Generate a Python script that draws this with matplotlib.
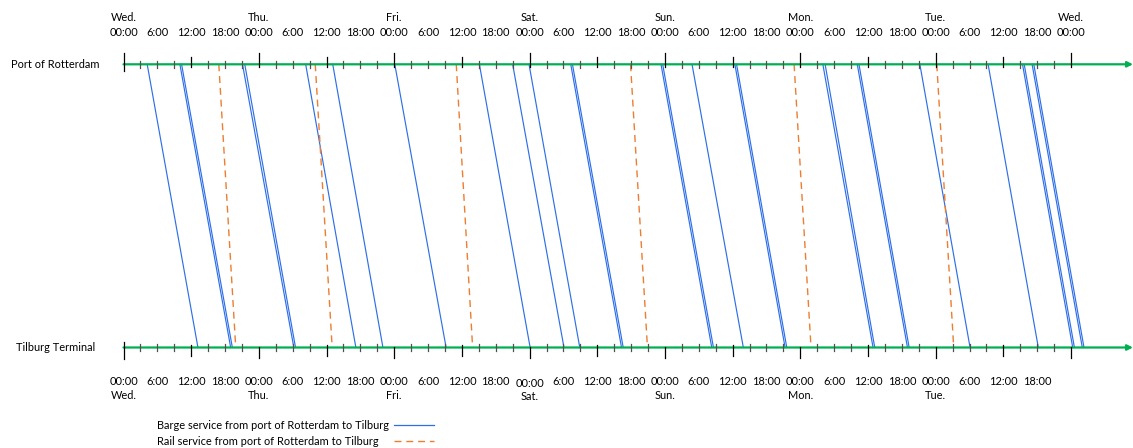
import matplotlib.pyplot as plt
from matplotlib.lines import Line2D

plt.rcParams['font.family'] = ['Lato', 'DejaVu Sans']

# times in hours after Wednesday 00:00
barge_dep = [4.2, 10.0, 10.3, 21.1, 21.5, 32.3, 37.1, 48.1, 63.1, 69.0, 71.9, 79.3, 79.6,
             95.3, 95.6, 100.8, 108.4, 108.7, 124.0, 124.4, 130.1, 130.4, 141.2, 153.3,
             159.4, 159.7, 161.1, 161.4]
barge_arr = [13.2, 19.0, 19.3, 30.2, 30.5, 41.2, 46.0, 57.2, 72.1, 78.1, 80.9, 88.3, 88.6,
             104.3, 104.6, 109.9, 117.3, 117.6, 132.9, 133.2, 139.0, 139.3, 150.1, 162.2,
             168.3, 168.6, 170.0, 170.3]
rail_dep = [16.9, 34.0, 59.0, 89.9, 118.9, 144.2]
rail_arr = [19.9, 37.0, 61.9, 92.9, 121.9, 147.2]

days = ['Wed.', 'Thu.', 'Fri.', 'Sat.', 'Sun.', 'Mon.', 'Tue.', 'Wed.']
time_labels = ['00:00', '6:00', '12:00', '18:00']
stations = ['Tilburg Terminal', 'Port of Rotterdam']
legend_labels = ['Barge service from port of Rotterdam to Tilburg',
                 'Rail service from port of Rotterdam to Tilburg']

BLUE = '#2E6FE8'
ORANGE = '#ED7D31'
GREEN = '#00B050'
FS = 7.9

W, H = 1133, 448
fig = plt.figure(figsize=(W / 100, H / 100), dpi=100)

# axis: 0 h at x=123.5 px, 5.64 px per hour; Tilburg at y=347.5 px, Rotterdam at y=64.3 px
x0, pph = 123.5, 5.64
yb, yt = 347.5, 64.3
ax = fig.add_axes([x0 / W, (H - yb) / H, (W - x0) / W, (yb - yt) / H])
xmax = (W - x0) / pph
ax.set_xlim(0, xmax)
ax.set_ylim(0, 1)
ax.axis('off')
px = 1 / (yb - yt)  # one pixel in y data units

# services
for d, a in zip(barge_dep, barge_arr):
    ax.plot([d, a], [1, 0], color=BLUE, lw=0.85, clip_on=False, zorder=2)
for d, a in zip(rail_dep, rail_arr):
    ax.plot([d, a], [1, 0], color=ORANGE, lw=1.0, dashes=(5, 3.5), clip_on=False, zorder=2)

# time axes for both stations
for y in (0, 1):
    ax.annotate('', xy=(xmax, y), xytext=(0, y),
                arrowprops=dict(arrowstyle='-|>', color=GREEN, lw=1.6,
                                mutation_scale=8, shrinkA=0, shrinkB=0),
                annotation_clip=False, zorder=3)
    ax.text(-12.1, y, stations[y], ha='center', va='center', fontsize=FS)

for h in range(0, 169, 3):
    if h % 24 == 0:
        top = (11, 3) if h else (11, 6.5)
        bot = (0.5, 10.5) if h else (6, 11)
        c = 'black'
    elif h % 12 == 0:
        top, bot, c = (7.3, 2.7), (2.5, 8.5), 'black'
    else:
        top, bot, c = (3.3, 3.7), (3.5, 3.5), '#505050'
    ax.plot([h, h], [1 - top[1] * px, 1 + top[0] * px], color=c, lw=0.9, clip_on=False, zorder=4)
    ax.plot([h, h], [-bot[1] * px, bot[0] * px], color=c, lw=0.9, clip_on=False, zorder=4)

# tick labels
for h in range(0, 169, 6):
    lab = time_labels[(h // 6) % 4]
    ax.text(h, 1 + 32.3 * px, lab, ha='center', va='center', fontsize=FS)
    if h < 168:
        ax.text(h, -(33.5 + (2 if h == 72 else 0)) * px, lab, ha='center', va='center', fontsize=FS)
    if h % 24 == 0:
        ax.text(h, 1 + 47.3 * px, days[h // 24], ha='center', va='center', fontsize=FS)
        if h < 168:
            ax.text(h, -(47.5 + (1 if h == 72 else 0)) * px, days[h // 24],
                    ha='center', va='center', fontsize=FS)

# legend: labels left, line samples right
styles = [dict(color=BLUE, lw=0.9), dict(color=ORANGE, lw=1.0, dashes=(5, 3.5))]
for i, (lab, st) in enumerate(zip(legend_labels, styles)):
    yy = 1 - (425 + 16 * i) / H
    fig.text(157 / W, yy, lab, ha='left', va='center', fontsize=FS)
    fig.add_artist(Line2D([394 / W, 434 / W], [yy, yy], transform=fig.transFigure, **st))

fig.savefig('out.png', dpi=100)
